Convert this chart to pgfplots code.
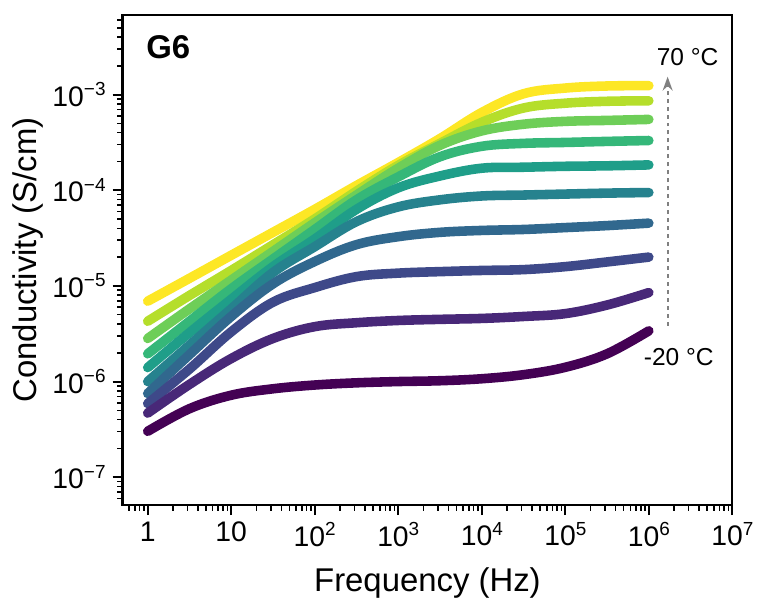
\documentclass[border=0pt]{standalone}
\usepackage{pgfplots}
\pgfplotsset{compat=1.18}
\usepackage{pgfplotstable}
\usepackage{fontspec}
\setmainfont{Liberation Sans}
\usetikzlibrary{arrows.meta}

\definecolor{v0}{HTML}{440154}
\definecolor{v1}{HTML}{482878}
\definecolor{v2}{HTML}{3E4989}
\definecolor{v3}{HTML}{31688E}
\definecolor{v4}{HTML}{26828E}
\definecolor{v5}{HTML}{1F9E89}
\definecolor{v6}{HTML}{35B779}
\definecolor{v7}{HTML}{6ECE58}
\definecolor{v8}{HTML}{B5DE2B}
\definecolor{v9}{HTML}{FDE725}

\newcommand{\tp}[1]{10\raisebox{5.4pt}{\fontsize{9.5}{10}\selectfont #1}}

% conductivity vs frequency, -20 C (m20) ... 70 C (p70)
\pgfplotstableread{
f       m20     m10     p0      p10     p20     p30     p40     p50     p60     p70
1       3.02e-7 4.68e-7 5.89e-7 7.50e-7 1.00e-6 1.40e-6 1.95e-6 2.82e-6 4.27e-6 6.92e-6
3.162   5.20e-7 9.33e-7 1.35e-6 1.91e-6 2.40e-6 3.24e-6 4.27e-6 5.75e-6 7.94e-6 1.20e-5
10      7.20e-7 1.74e-6 3.31e-6 4.79e-6 5.75e-6 7.24e-6 9.33e-6 1.15e-5 1.45e-5 2.09e-5
31.62   8.40e-7 2.82e-6 6.76e-6 1.05e-5 1.38e-5 1.59e-5 1.91e-5 2.29e-5 2.69e-5 3.63e-5
100     9.20e-7 3.75e-6 9.60e-6 1.80e-5 2.57e-5 3.09e-5 3.89e-5 4.57e-5 5.01e-5 6.31e-5
316.2   9.70e-7 4.12e-6 1.25e-5 2.70e-5 4.70e-5 6.31e-5 7.94e-5 8.91e-5 9.77e-5 1.12e-4
1000    1.00e-6 4.35e-6 1.36e-5 3.27e-5 6.70e-5 1.06e-4 1.38e-4 1.70e-4 1.82e-4 1.95e-4
3162    1.02e-6 4.47e-6 1.41e-5 3.63e-5 7.94e-5 1.41e-4 2.24e-4 2.95e-4 3.09e-4 3.47e-4
10000   1.07e-6 4.57e-6 1.45e-5 3.80e-5 8.71e-5 1.70e-4 2.88e-4 4.17e-4 5.13e-4 6.50e-4
31623   1.18e-6 4.79e-6 1.48e-5 3.89e-5 8.91e-5 1.74e-4 3.09e-4 4.90e-4 7.24e-4 1.02e-3
100000  1.41e-6 5.13e-6 1.59e-5 4.07e-5 9.12e-5 1.78e-4 3.16e-4 5.25e-4 8.13e-4 1.17e-3
316228  1.95e-6 6.31e-6 1.78e-5 4.27e-5 9.33e-5 1.80e-4 3.24e-4 5.37e-4 8.51e-4 1.23e-3
1000000 3.39e-6 8.51e-6 2.00e-5 4.53e-5 9.46e-5 1.84e-4 3.31e-4 5.50e-4 8.61e-4 1.24e-3
}\cond

\begin{document}
\begin{tikzpicture}
\begin{loglogaxis}[
    width=306pt, height=246pt, scale only axis,
    xmin=0.5, xmax=1e7,
    ymin=5.1e-8, ymax=6.8e-3,
    axis line style={line width=1.1pt, black},
    tick align=outside,
    xtick pos=bottom, ytick pos=left,
    major tick length=5pt, minor tick length=2.7pt,
    every tick/.style={black, line width=1pt},
    minor tick style={line width=0.8pt},
    xtick={1,10,100,1000,10000,100000,1000000,10000000},
    xticklabels={1,10,\tp{2},\tp{3},\tp{4},\tp{5},\tp{6},\tp{7}},
    minor xtick={0.6,0.7,0.8,0.9,
        2,3,4,5,6,7,8,9,
        20,30,40,50,60,70,80,90,
        200,300,400,500,600,700,800,900,
        2e3,3e3,4e3,5e3,6e3,7e3,8e3,9e3,
        2e4,3e4,4e4,5e4,6e4,7e4,8e4,9e4,
        2e5,3e5,4e5,5e5,6e5,7e5,8e5,9e5,
        2e6,3e6,4e6,5e6,6e6,7e6,8e6,9e6},
    ytick={1e-7,1e-6,1e-5,1e-4,1e-3},
    yticklabels={\tp{−7},\tp{−6},\tp{−5},\tp{−4},\tp{−3}},
    minor ytick={6e-8,7e-8,8e-8,9e-8,
        2e-7,3e-7,4e-7,5e-7,6e-7,7e-7,8e-7,9e-7,
        2e-6,3e-6,4e-6,5e-6,6e-6,7e-6,8e-6,9e-6,
        2e-5,3e-5,4e-5,5e-5,6e-5,7e-5,8e-5,9e-5,
        2e-4,3e-4,4e-4,5e-4,6e-4,7e-4,8e-4,9e-4,
        2e-3,3e-3,4e-3,5e-3,6e-3},
    tick label style={font=\fontsize{14.2}{16}\selectfont},
    xlabel={Frequency (Hz)},
    ylabel={Conductivity (S/cm)},
    every axis x label/.style={at={(axis description cs:0.5,-0.1585)}, anchor=center,
        font=\fontsize{16.5}{19}\selectfont},
    every axis y label/.style={at={(axis description cs:-0.155,0.5)}, anchor=center, rotate=90,
        font=\fontsize{16.5}{19}\selectfont},
    curve/.style={line width=4.8pt, line cap=round, line join=round, smooth, tension=0.6, no marks},
]
\addplot[curve, v9] table[x=f, y=p70] {\cond};
\addplot[curve, v8] table[x=f, y=p60] {\cond};
\addplot[curve, v7] table[x=f, y=p50] {\cond};
\addplot[curve, v6] table[x=f, y=p40] {\cond};
\addplot[curve, v5] table[x=f, y=p30] {\cond};
\addplot[curve, v4] table[x=f, y=p20] {\cond};
\addplot[curve, v3] table[x=f, y=p10] {\cond};
\addplot[curve, v2] table[x=f, y=p0] {\cond};
\addplot[curve, v1] table[x=f, y=m10] {\cond};
\addplot[curve, v0] table[x=f, y=m20] {\cond};

\draw[gray, line width=1pt, dash pattern=on 2pt off 2pt, -{Stealth[length=7pt, width=5pt]}]
    (axis cs:1.68e6,3.83e-6) -- (axis cs:1.68e6,1.54e-3);
\node[font=\fontsize{12.3}{14}\selectfont] at (axis cs:2.91e6,2.49e-3) {70 °C};
\node[font=\fontsize{12.3}{14}\selectfont] at (axis cs:2.28e6,1.82e-6) {-20 °C};
\node[font=\bfseries\fontsize{16.5}{19}\selectfont] at (rel axis cs:0.075,0.935) {G6};
\end{loglogaxis}
\path (current axis.south west) ++(-61.5pt,-50pt);
\path (current axis.north east) ++(12.5pt,7.5pt);
\end{tikzpicture}
\end{document}
